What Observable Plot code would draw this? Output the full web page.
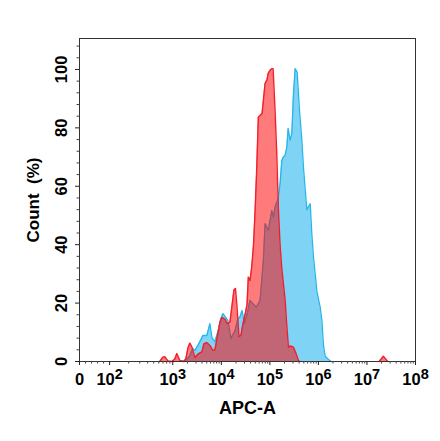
<!DOCTYPE html>
<html>
<head>
<meta charset="utf-8">
<script src="https://cdn.jsdelivr.net/npm/d3@7"></script>
<script src="https://cdn.jsdelivr.net/npm/@observablehq/plot@0.6"></script>
<style>
  html, body { margin: 0; padding: 0; background: #fff; }
  #chart svg { display: block; }
</style>
</head>
<body>
<div id="chart"></div>
<script>
// x values are in display decades (log10 of APC-A); y values are Count (%)
const redX = [2.73, 2.79, 2.835, 2.90, 2.98, 3.04, 3.083, 3.145, 3.23, 3.27, 3.31, 3.351, 3.393, 3.455, 3.517, 3.60, 3.64, 3.70, 3.764, 3.826, 3.868, 3.93, 3.971, 4.012, 4.074, 4.116, 4.178, 4.219, 4.26, 4.291, 4.322, 4.364, 4.405, 4.446, 4.488, 4.529, 4.556, 4.591, 4.626, 4.663, 4.694, 4.729, 4.762, 4.798, 4.839, 4.87, 4.901, 4.942, 4.963, 5.004, 5.045, 5.066, 5.107, 5.142, 5.176, 5.21, 5.245, 5.314, 5.35, 5.383, 5.42, 5.486, 5.54, 5.59, 5.62, null, 7.25, 7.30, 7.339, 7.38, 7.43];
const redY = [0, 1.4, 1.7, 0.2, 0, 0.8, 2.7, 0.4, 0, 1.0, 4.5, 6.3, 5.0, 1.4, 2.5, 3.3, 6.0, 6.5, 5.5, 3.8, 4.0, 9.6, 13.5, 15.1, 14.5, 13.0, 13.5, 19, 24.5, 25, 19, 8.5, 9, 13, 16, 19.5, 28.9, 27.7, 32.3, 40, 51, 66, 83.6, 84.2, 84.9, 90, 95.2, 96.5, 98.6, 99.7, 100.3, 100.3, 86, 71, 52, 40, 32, 21, 12, 4.9, 5.3, 4.9, 2.7, 0.3, 0, null, 0, 1.0, 1.8, 1.0, 0];

const blueX = [3.207, 3.269, 3.351, 3.413, 3.455, 3.517, 3.579, 3.62, 3.702, 3.764, 3.806, 3.868, 3.93, 3.992, 4.033, 4.095, 4.136, 4.198, 4.281, 4.343, 4.384, 4.426, 4.477, 4.529, 4.591, 4.653, 4.722, 4.798, 4.866, 4.901, 4.969, 5.039, 5.072, 5.107, 5.155, 5.176, 5.211, 5.246, 5.279, 5.314, 5.349, 5.376, 5.417, 5.452, 5.486, 5.521, 5.562, 5.61, 5.659, 5.692, 5.727, 5.762, 5.796, 5.831, 5.865, 5.899, 5.969, 6.037, 6.072, 6.105, 6.14, 6.202, 6.264];
const blueY = [0, 0.5, 2.0, 4.5, 3.8, 5.5, 7.5, 8.9, 8.9, 13.0, 8.2, 6.8, 10.3, 14.7, 16.4, 15, 14, 7.9, 10.5, 14.7, 15.2, 17.5, 13, 16, 20.9, 19.8, 18.6, 20.9, 34.6, 47.2, 44.9, 51.7, 49.4, 52.9, 55, 56.3, 61, 68.8, 70, 70.5, 73.4, 79.8, 75.7, 78, 91.5, 100.3, 99, 86, 75.7, 66.5, 59, 52, 53, 54, 43.5, 35.7, 24, 18.5, 14, 5.5, 1.8, 0.8, 0];

// axis ticks
const xZero = 1.078;        // where the "0" label sits on the display axis
const x100 = 1.698;         // where the "10^2" label sits
const xTickValues = [xZero, x100, 3, 4, 5, 6, 7, 8];
const xTickLabels = ["0", "10^2", "10^3", "10^4", "10^5", "10^6", "10^7", "10^8"];
const yTickValues = [0, 20, 40, 60, 80, 100];
const xDomain = [xZero, 8];
const yDomain = [0, 110.6];

const red = redX.map((x, i) => ({x, y: redY[i]}));
const blue = blueX.map((x, i) => ({x, y: blueY[i]}));

// minor tick positions
const xMinor = [];
for (let k = 1; k < 5; k++) xMinor.push(xZero + (x100 - xZero) * k / 5);
for (let k = 2; k < 10; k++) xMinor.push(x100 + (3 - x100) * Math.log10(k));
for (let d = 3; d < 8; d++) for (let k = 2; k < 10; k++) xMinor.push(d + Math.log10(k));
const yMinor = d3.range(0, 110, 4).filter(v => v % 20 !== 0);

const font = "'Liberation Sans', Arial, Helvetica, sans-serif";

const chart = Plot.plot({
  width: 440,
  height: 441,
  marginLeft: 79,
  marginRight: 25,
  marginTop: 38,
  marginBottom: 80,
  style: {fontFamily: font, background: "#fff", color: "#000"},
  x: {type: "linear", domain: xDomain, axis: null},
  y: {type: "linear", domain: yDomain, axis: null},
  marks: [
    Plot.areaY(blue, {x: "x", y: "y", fill: "rgb(0,170,235)", fillOpacity: 0.5, curve: "linear"}),
    Plot.lineY(blue, {x: "x", y: "y", stroke: "#25b6ea", strokeWidth: 1.3, curve: "linear"}),
    Plot.areaY(red, {x: "x", y: "y", fill: "rgb(255,0,0)", fillOpacity: 0.52, curve: "linear"}),
    Plot.lineY(red, {x: "x", y: "y", stroke: "#f0202c", strokeWidth: 1.4, curve: "linear"}),
    Plot.frame({stroke: "#333", strokeWidth: 1}),
    Plot.axisY({ticks: yTickValues, tickSize: 4, tickFormat: () => "", label: null, stroke: "#222"}),
    Plot.axisY({ticks: yMinor, tickSize: 2.5, tickFormat: () => "", label: null, stroke: "#444"}),
    Plot.axisX({ticks: xTickValues, tickSize: 4, tickFormat: () => "", label: null, stroke: "#222"}),
    Plot.axisX({ticks: xMinor, tickSize: 2.5, tickFormat: () => "", label: null, stroke: "#444"}),
    Plot.text(yTickValues, {x: () => xDomain[0], y: d => d, text: d => String(d), rotate: -90, dx: -18,
      textAnchor: "middle", lineAnchor: "middle", fontSize: 16.5, fontWeight: "bold", fill: "#000"}),
    Plot.text(xTickValues, {x: d => d, y: () => 0, text: (d, i) => xTickLabels[i], dy: 18,
      textAnchor: "middle", lineAnchor: "middle", fontSize: 16.5, fontWeight: "bold", fill: "#000"}),
    Plot.text(["APC-A"], {frameAnchor: "bottom", dy: 47, lineAnchor: "middle", fontSize: 18, fontWeight: "bold", fill: "#000"}),
    Plot.text(["Count\u00a0 (%)"], {frameAnchor: "left", rotate: -90, dx: -46, textAnchor: "middle", lineAnchor: "middle", fontSize: 17, fontWeight: "bold", fill: "#000"})
  ]
});

document.getElementById("chart").appendChild(chart);

// superscript exponents on x tick labels
chart.querySelectorAll("text").forEach(t => {
  const s = t.textContent;
  if (/^10\^\d$/.test(s)) {
    const [base, exp] = s.split("^");
    while (t.firstChild) t.removeChild(t.firstChild);
    t.appendChild(document.createTextNode(base));
    const sup = document.createElementNS("http://www.w3.org/2000/svg", "tspan");
    sup.setAttribute("dy", "-6");
    sup.setAttribute("font-size", "14.5");
    sup.textContent = exp;
    t.appendChild(sup);
  }
});
</script>
</body>
</html>
